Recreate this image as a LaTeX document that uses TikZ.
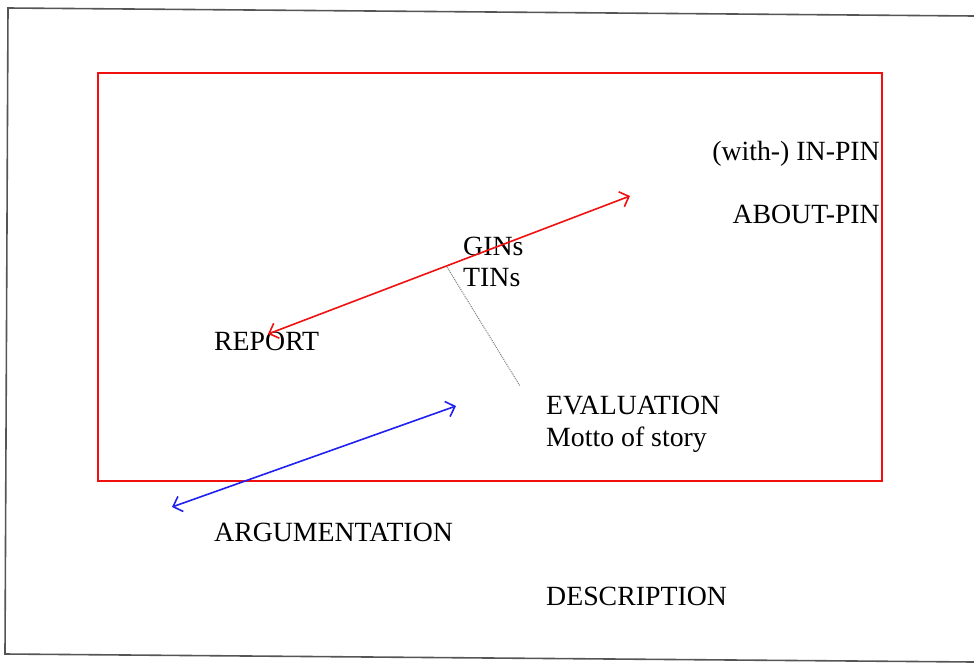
\documentclass[tikz,border=0pt]{standalone}
\usepackage{fontspec}
\setmainfont{Liberation Serif}
\usepackage{xcolor}
\usetikzlibrary{arrows.meta}
\definecolor{framegray}{HTML}{555555}
\definecolor{boxred}{HTML}{F01010}
\definecolor{linkblue}{HTML}{2020F0}

\begin{document}
\begin{tikzpicture}[x=1pt,y=-1pt,>={Straight Barb[length=8pt,width=16pt]},
    lbl/.style={inner sep=0pt,font=\fontsize{27.8}{31}\selectfont},
    lbll/.style={lbl,anchor=base west},
    lblr/.style={lbl,anchor=base east}]
        \useasboundingbox (0,0) rectangle (974,664);
        \draw[framegray,line width=1.6pt] (974,16) -- (8,8) -- (5,654) -- (974,662);
        \draw[boxred,line width=1.4pt] (98,73) rectangle (882,481);
        % labels
        \node[lblr] (inpin) at (880,160) {(with-) IN-PIN};
        \node[lblr] (aboutpin) at (880,223) {ABOUT-PIN};
        \node[lbll] (gins) at (463,255) {GINs};
        \node[lbll] (tins) at (463,286) {TINs};
        \node[lbll] (report) at (214,350) {REPORT};
        \node[lbll] (eval) at (546,414) {EVALUATION};
        \node[lbll] (motto) at (546,446) {Motto of story};
        \node[lbll] (argu) at (214,541) {ARGUMENTATION};
        \node[lbll] (descr) at (546,605) {DESCRIPTION};
        % arrows
        \coordinate (r1) at (268,334);
        \coordinate (r2) at (630,196);
        \coordinate (b1) at (172,507);
        \coordinate (b2) at (456,406);
        \coordinate (d1) at (447,267);
        \coordinate (d2) at (520,386);
        \draw[<->,boxred,line width=1.6pt] (r1) -- (r2);
        \draw[<->,linkblue,line width=1.6pt] (b1) -- (b2);
        \draw[gray,densely dotted,line width=1pt] (d1) -- (d2);
      \end{tikzpicture}
\end{document}
